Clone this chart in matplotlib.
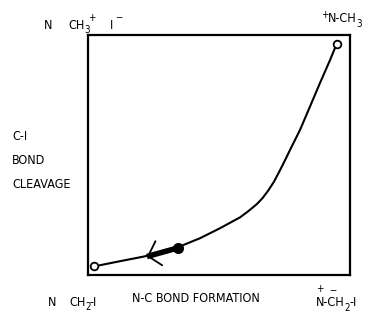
import matplotlib
matplotlib.use("Agg")
import matplotlib.pyplot as plt
from matplotlib import font_manager
from matplotlib.font_manager import FontProperties

# ---- data (axes units 0..1) ----
curve_x = [0.024, 0.120, 0.218, 0.342, 0.364, 0.427, 0.504, 0.580, 0.612, 0.644,
           0.666, 0.688, 0.710, 0.733, 0.752, 0.771, 0.809, 0.847, 0.885, 0.924, 0.949]
curve_y = [0.036, 0.057, 0.078, 0.1125, 0.125, 0.153, 0.195, 0.240, 0.266, 0.295,
           0.320, 0.352, 0.389, 0.437, 0.478, 0.521, 0.604, 0.701, 0.799, 0.896, 0.9625]
start_pt = (0.024, 0.036)
end_pt = (0.949, 0.9625)
dot_pt = (0.342, 0.1125)
arrow_tip = (0.225, 0.077)

labels_left = ["C-I", "BOND", "CLEAVAGE"]
label_xaxis = "N-C BOND FORMATION"

# pick a condensed font if one is installed
fp_file = None
ttf = font_manager.fontManager.ttflist
for f in ttf:
    if f.name == "Liberation Sans Narrow" and f.style == "normal" and f.weight in (400, "normal"):
        fp_file = f.fname
        break
if fp_file is None:
    for f in ttf:
        if f.name == "DejaVu Sans" and f.stretch in ("condensed", "semi-condensed") \
                and f.style == "normal" and f.weight in (400, "normal", "book"):
            fp_file = f.fname
            break

def fprop(size):
    if fp_file:
        return FontProperties(fname=fp_file, size=size)
    return FontProperties(family="DejaVu Sans", size=size, stretch="condensed")

W, H = 384, 314
fig = plt.figure(figsize=(W / 100, H / 100), dpi=100)
L, T, R, B = 88, 35, 350, 275
ax = fig.add_axes([L / W, 1 - B / H, (R - L) / W, (B - T) / H])
ax.set_xlim(0, 1)
ax.set_ylim(0, 1)
ax.set_xticks([])
ax.set_yticks([])
for s in ax.spines.values():
    s.set_linewidth(1.6)
    s.set_color("black")

ax.plot(curve_x, curve_y, color="black", lw=1.5, solid_capstyle="round",
        solid_joinstyle="round", zorder=2)
ax.plot([dot_pt[0], arrow_tip[0]], [dot_pt[1], arrow_tip[1]], color="black", lw=4.0,
        solid_capstyle="butt", zorder=3)
ax.annotate("", xy=arrow_tip, xytext=dot_pt,
            arrowprops=dict(arrowstyle="->,head_length=0.8,head_width=0.9", lw=1.3,
                            color="black", shrinkA=0, shrinkB=0), zorder=4)
ax.plot([dot_pt[0]], [dot_pt[1]], "o", color="black", ms=7, zorder=5)
ax.plot([start_pt[0], end_pt[0]], [start_pt[1], end_pt[1]], "o", ls="none", ms=5.5,
        mfc="white", mec="black", mew=1.3, zorder=6)

def t(px, py, s, size=9):
    fig.text(px / W, 1 - py / H, s, ha="left", va="baseline",
             fontproperties=fprop(size), color="black")

# top-left: N   CH3+   I-
t(44, 29, "N")
t(68, 29, "CH")
t(84, 33, "3", 7)
t(88, 21, "+", 7)
t(110, 29, "I")
t(115, 21, "\u2212", 7)
# top-right: +N-CH3
t(321, 18, "+", 7)
t(328, 22, "N-CH")
t(356, 27, "3", 7)
# left label
t(12, 140, labels_left[0])
t(12, 164, labels_left[1])
t(12, 188, labels_left[2])
# bottom-left: N   CH2-I
t(48, 306, "N")
t(69, 306, "CH")
t(85, 310, "2", 7)
t(90, 306, "-I")
# x label
t(132, 302, label_xaxis)
# bottom-right: +N-CH2(-)-I
t(316, 292, "+", 7)
t(316, 306, "N-CH")
t(344, 311, "2", 7)
t(349, 306, "-I")
t(329, 294, "\u2212", 7)

fig.savefig("out.png", dpi=100, facecolor="white")
